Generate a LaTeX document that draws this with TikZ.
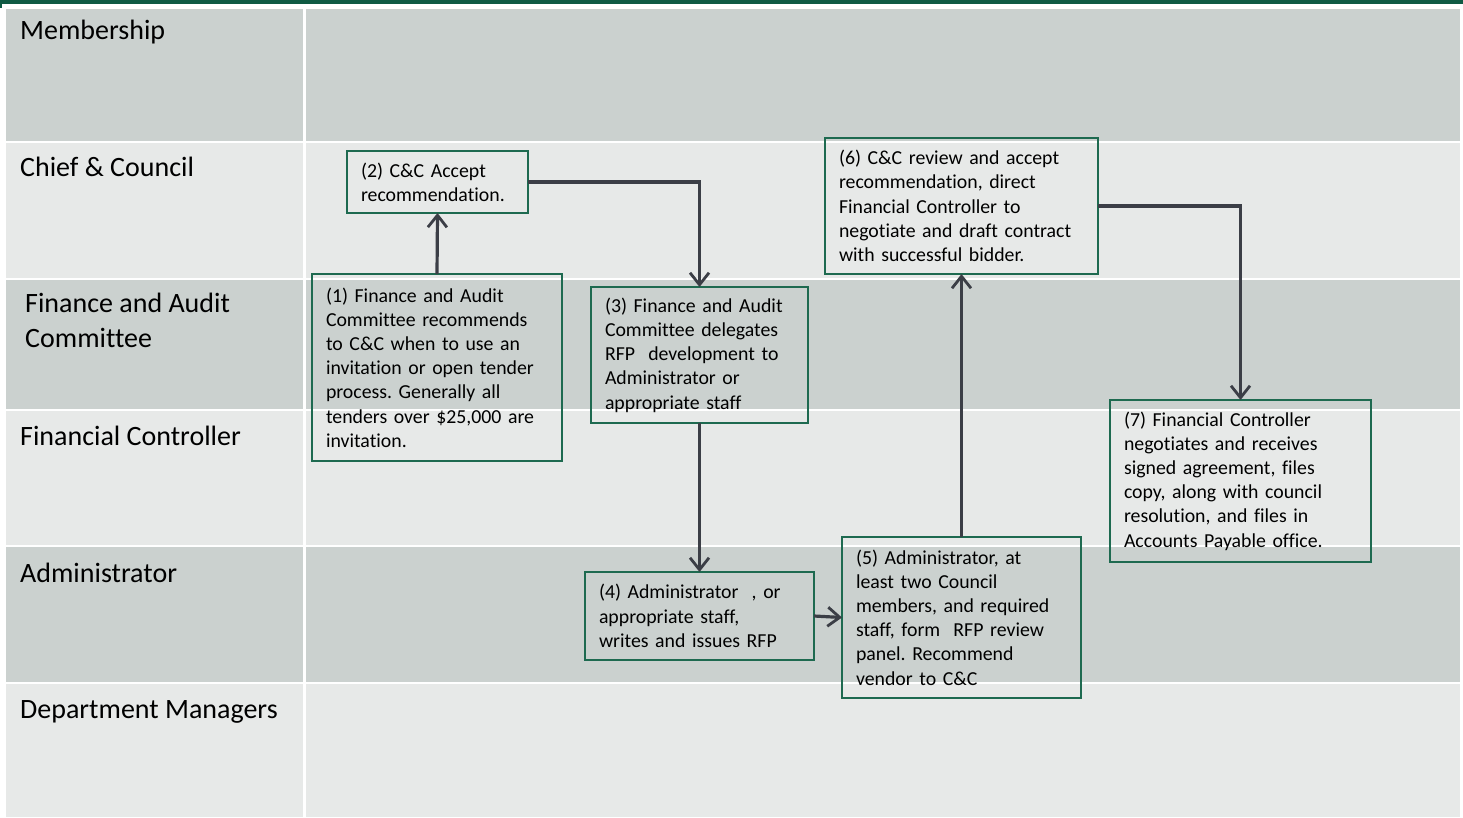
\documentclass[tikz,border=0pt]{standalone}
\usepackage{fontspec}
\setmainfont{Carlito}[Ligatures=NoCommon]
\usetikzlibrary{arrows.meta}
\frenchspacing

\definecolor{laneDark}{HTML}{CBD1CF}
\definecolor{laneLight}{HTML}{E7E9E8}
\definecolor{topGreen}{HTML}{0F5A43}
\definecolor{boxGreen}{HTML}{1E6A50}
\definecolor{arrowGray}{HTML}{3B3E46}

\tikzset{
  lanelabel/.style={anchor=base west, inner sep=0pt, align=left,
    font=\fontsize{28}{35}\selectfont, text=black},
  stepbox/.style={draw=boxGreen, line width=1.5pt, rectangle, outer sep=0pt,
    inner xsep=14pt, inner ysep=0pt, align=left,
    font=\fontsize{19.8}{24.2}\selectfont, text=black},
  flow/.style={draw=arrowGray, line width=3.2pt,
    -{Straight Barb[length=12pt, width=19pt, line width=2.8pt]}},
}

% place a step box from its pixel corners (x1,y1) to (x2,y2)
\newcommand{\stepnode}[6]{%
  \pgfmathsetmacro{\bw}{#4-#2}%
  \pgfmathsetmacro{\bh}{#5-#3}%
  \pgfmathsetmacro{\tw}{#4-#2-28}%
  \node[stepbox, minimum width=\bw pt, minimum height=\bh pt, text width=\tw pt]
    (#1) at ({(#2+#4)/2},{(#3+#5)/2}) {#6};%
}

\begin{document}
\begin{tikzpicture}[x=1pt, y=-1pt]
  \useasboundingbox (0,0) rectangle (1463,817);
  \fill[white] (0,0) rectangle (1463,817);

  % header rule
  \fill[topGreen] (0,0) rectangle (1463,3.5);
  \fill[topGreen] (0,0) rectangle (2,8);

  % swim lanes: label cell and body cell per row
  \foreach \top/\bot/\col in {9/141/laneDark, 143/278/laneLight, 280/409/laneDark,
                              411/545/laneLight, 547/682/laneDark, 684/817/laneLight} {
    \fill[\col] (6,\top) rectangle (303,\bot);
    \fill[\col] (306,\top) rectangle (1460,\bot);
  }

  % lane titles (base anchor sits on the last line)
  \node[lanelabel] (lMember) at (20,39) {Membership};
  \node[lanelabel] (lChief)  at (20,176) {Chief \& Council};
  \node[lanelabel] (lFinAud) at (25,347) {Finance and Audit\\Committee};
  \node[lanelabel] (lFinCtl) at (20,445) {Financial Controller};
  \node[lanelabel] (lAdmin)  at (20,582) {Administrator};
  \node[lanelabel] (lDept)   at (20,718) {Department Managers};

  % process steps
  \stepnode{s1}{312}{274}{562}{461}{(1) Finance and Audit\\Committee recommends\\to C\&C when to use an\\invitation or open tender\\process. Generally all\\tenders over \$25,000 are\\invitation.}
  \stepnode{s2}{347}{151}{528}{213}{(2) C\&C Accept\\recommendation.}
  \stepnode{s3}{591}{287}{808}{423}{(3) Finance and Audit\\Committee delegates\\RFP\ \ development to\\Administrator or\\appropriate staff}
  \stepnode{s4}{585}{572}{814}{660}{(4) Administrator\ \ , or\\appropriate staff,\\writes and issues RFP}
  \stepnode{s5}{842}{537}{1081}{698}{(5) Administrator, at\\least two Council\\members, and required\\staff, form\ \ RFP review\\panel. Recommend\\vendor to C\&C}
  \stepnode{s6}{825}{138}{1098}{274}{(6) C\&C review and accept\\recommendation, direct\\Financial Controller to\\negotiate and draft contract\\with successful bidder.}
  \stepnode{s7}{1110}{400}{1371}{562}{(7) Financial Controller\\negotiates and receives\\signed agreement, files\\copy, along with council\\resolution, and files in\\Accounts Payable office.}

  % flow between steps
  \draw[flow] (s1.north) -- (s2.south);
  \draw[flow] (s2.east) -| (s3.north);
  \draw[flow] (s3.south) -- (s4.north);
  \draw[flow] (s4.east) -- (s5.west);
  \draw[flow] (s5.north) -- (s6.south);
  \draw[flow] (s6.east) -| (s7.north);
\end{tikzpicture}
\end{document}
